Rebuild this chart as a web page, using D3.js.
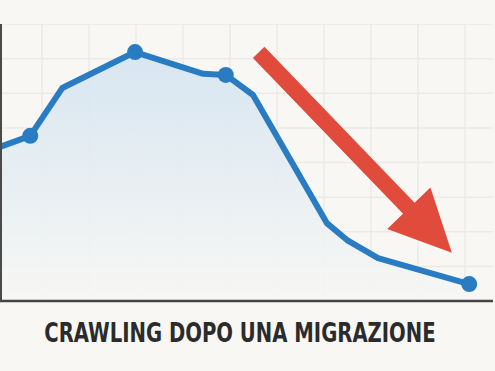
<!DOCTYPE html>
<html>
<head>
<meta charset="utf-8">
<script src="https://cdn.jsdelivr.net/npm/d3@7"></script>
<style>
  html, body { margin: 0; padding: 0; background: #f8f7f4; }
  svg { display: block; }
</style>
</head>
<body>
<div id="chart"></div>
<script>
// chart data (x = period, y = crawl rate)
const xValues = [0.1, 0.75, 1.43, 2.98, 4.43, 4.91, 5.49, 7.06, 7.49, 8.15, 10.09]
const yValues = [44.5, 47.7, 61.5, 71.9, 65.6, 65.3, 59.5, 22.5, 17.6, 12.4, 4.9]
const markerIdx = [1, 3, 5, 10]
const xGrid = [1, 2, 3, 4, 5, 6, 7, 8, 9, 10]
const yGrid = [10, 20, 30, 40, 50, 60, 70, 80]
const arrowFrom = [5.61, 71.8]
const arrowTo = [9.72, 13.9]
const title = 'CRAWLING DOPO UNA MIGRAZIONE'

const width = 495
const height = 371
const plot = { left: 1, right: 493, top: 24, bottom: 301 }

const data = xValues.map((x, i) => ({ x: x, y: yValues[i] }))

const xScale = d3.scaleLinear().domain([0, 11]).range([-5, 512])
const yScale = d3.scaleLinear().domain([0, 80]).range([plot.bottom, plot.top])

const svg = d3.select('#chart')
    .append('svg')
    .attr('width', width)
    .attr('height', height)

svg.append('rect')
    .attr('width', width)
    .attr('height', height)
    .attr('fill', '#f8f7f4')

const defs = svg.append('defs')
defs.append('clipPath')
    .attr('id', 'plot-clip')
    .append('rect')
    .attr('x', plot.left)
    .attr('y', plot.top)
    .attr('width', plot.right - plot.left)
    .attr('height', plot.bottom - plot.top)

const grad = defs.append('linearGradient')
    .attr('id', 'area-grad')
    .attr('x1', 0).attr('x2', 0)
    .attr('y1', 0).attr('y2', 1)
grad.append('stop').attr('offset', '0%').attr('stop-color', '#d4e4f1')
grad.append('stop').attr('offset', '100%').attr('stop-color', '#f7f7f4')

// Grid
const grid = svg.append('g').attr('clip-path', 'url(#plot-clip)')
grid.selectAll('.vgrid')
    .data(xGrid)
    .enter()
    .append('line')
    .attr('x1', d => xScale(d)).attr('x2', d => xScale(d))
    .attr('y1', plot.top).attr('y2', plot.bottom)
    .attr('stroke', '#ecebe8')
    .attr('stroke-width', 1.5)
grid.selectAll('.hgrid')
    .data(yGrid)
    .enter()
    .append('line')
    .attr('x1', plot.left).attr('x2', plot.right)
    .attr('y1', d => yScale(d)).attr('y2', d => yScale(d))
    .attr('stroke', '#ecebe8')
    .attr('stroke-width', 1.5)

const g = svg.append('g').attr('clip-path', 'url(#plot-clip)')

// Area under line
const area = d3.area()
    .x(d => xScale(d.x))
    .y0(plot.bottom)
    .y1(d => yScale(d.y))
g.append('path')
    .datum(data)
    .attr('d', area)
    .attr('fill', 'url(#area-grad)')
    .attr('opacity', 0.9)

// Line
const line = d3.line()
    .x(d => xScale(d.x))
    .y(d => yScale(d.y))
g.append('path')
    .datum(data)
    .attr('d', line)
    .attr('fill', 'none')
    .attr('stroke', '#2a7cc2')
    .attr('stroke-width', 6)
    .attr('stroke-linejoin', 'round')
    .attr('stroke-linecap', 'round')

g.selectAll('.dot')
    .data(markerIdx.map(i => data[i]))
    .enter()
    .append('circle')
    .attr('class', 'dot')
    .attr('cx', d => xScale(d.x))
    .attr('cy', d => yScale(d.y))
    .attr('r', 8)
    .attr('fill', '#2a7cc2')

// Red arrow
const x0 = xScale(arrowFrom[0]), y0 = yScale(arrowFrom[1])
const x1 = xScale(arrowTo[0]), y1 = yScale(arrowTo[1])
const len = Math.hypot(x1 - x0, y1 - y0)
const ux = (x1 - x0) / len, uy = (y1 - y0) / len
const nx = -uy, ny = ux
const shaftHalf = 8, headHalf = 30, headLen = 62
const bx = x1 - ux * headLen, by = y1 - uy * headLen
const arrowPts = [
    [x0 + nx * shaftHalf, y0 + ny * shaftHalf],
    [bx + nx * shaftHalf, by + ny * shaftHalf],
    [bx + nx * headHalf, by + ny * headHalf],
    [x1, y1],
    [bx - nx * headHalf, by - ny * headHalf],
    [bx - nx * shaftHalf, by - ny * shaftHalf],
    [x0 - nx * shaftHalf, y0 - ny * shaftHalf]
]
svg.append('polygon')
    .attr('points', arrowPts.map(p => p.join(',')).join(' '))
    .attr('fill', '#e14b3b')

// Axes lines
svg.append('line')
    .attr('x1', plot.left).attr('x2', plot.left)
    .attr('y1', plot.top).attr('y2', plot.bottom)
    .attr('stroke', '#4a4a4a')
    .attr('stroke-width', 2)
svg.append('line')
    .attr('x1', 0).attr('x2', plot.right)
    .attr('y1', plot.bottom).attr('y2', plot.bottom)
    .attr('stroke', '#454545')
    .attr('stroke-width', 2.5)

// Title (condensed by a horizontal scale)
svg.append('text')
    .text(title)
    .attr('transform', 'translate(240,342) scale(0.84,1)')
    .attr('text-anchor', 'middle')
    .attr('font-family', '"DejaVu Sans Condensed", sans-serif')
    .attr('font-weight', 'bold')
    .attr('font-size', 26)
    .attr('fill', '#2b2b2b')
</script>
</body>
</html>
